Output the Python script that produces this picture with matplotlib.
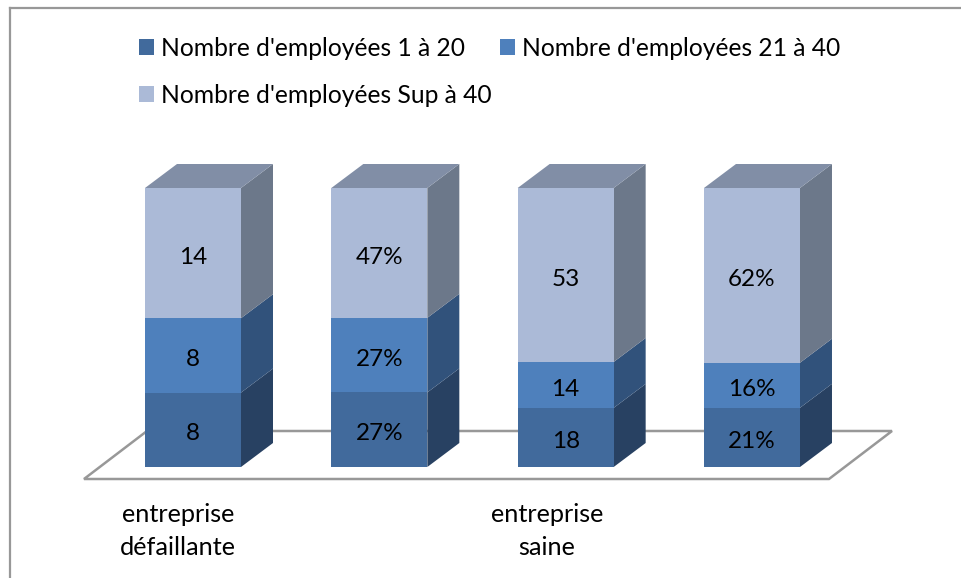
import matplotlib
matplotlib.use('Agg')
import matplotlib.pyplot as plt
from matplotlib.lines import Line2D
from matplotlib.patches import Patch, Polygon
import numpy as np

plt.rcParams['font.family'] = ['Lato', 'DejaVu Sans']

#values per column, the last row of each is what sits on top of the stack
low = [8, 27, 18, 21]
mid = [8, 27, 14, 16]
high = [14, 47, 53, 62]
is_percent = [False, True, False, True]
series_names = ["Nombre d'employées 1 à 20", "Nombre d'employées 21 à 40", "Nombre d'employées Sup à 40"]
group_labels = ["entreprise\ndéfaillante", "entreprise\nsaine"]

front_colors = ['#416A9C', '#4E80BC', '#ABBAD7']
side_colors = ['#284162', '#31527B', '#6C788A']
top_color = '#818EA6'
line_color = '#989898'

W, H = 961, 578
fig = plt.figure(figsize=(W / 100, H / 100), dpi=100)
ax = fig.add_axes([0, 0, 1, 1])

#axis scale: one unit per column in x, percent of the column in y
px_x = 186.33
px_y = 2.79
x0_px = 193
y0_px = 467
ax.set_xlim(-x0_px / px_x, (W - x0_px) / px_x)
ax.set_ylim(-(H - y0_px) / px_y, y0_px / px_y)
ax.axis('off')

bar_w = 96 / px_x
depth_x = 32 / px_x
depth_y = 24 / px_y

#chart floor, behind the bars
floor_l = -0.5 * bar_w - 61 / px_x
floor_r = 3 + 0.5 * bar_w + 29 / px_x
floor_b = -12 / px_y
shift_x = 63 / px_x
shift_y = 48 / px_y
ax.add_patch(Polygon([(floor_l, floor_b), (floor_r, floor_b),
                      (floor_r + shift_x, floor_b + shift_y), (floor_l + shift_x, floor_b + shift_y)],
                     closed=True, facecolor='white', edgecolor=line_color, linewidth=1.8, zorder=1))

data = np.array([low, mid, high], dtype=float)
shares = data / data.sum(axis=0) * 100
xs = np.arange(len(low))

bottom = np.zeros(len(low))
for s in range(3):
    ax.bar(xs, shares[s], bar_w, bottom=bottom, color=front_colors[s], zorder=3)
    for i, x in enumerate(xs):
        #side face of this segment
        r = x + bar_w / 2
        y1, y2 = bottom[i], bottom[i] + shares[s][i]
        ax.add_patch(Polygon([(r, y1), (r + depth_x, y1 + depth_y), (r + depth_x, y2 + depth_y), (r, y2)],
                             closed=True, facecolor=side_colors[s], edgecolor='none', zorder=2))
        label = f"{data[s][i]:.0f}%" if is_percent[i] else f"{data[s][i]:.0f}"
        ax.text(x, (y1 + y2) / 2 - 1.5, label, ha='center', va='center', fontsize=17.5, color='black', zorder=5)
    bottom += shares[s]

#top face of every column
for x, t in zip(xs, bottom):
    l, r = x - bar_w / 2, x + bar_w / 2
    ax.add_patch(Polygon([(l, t), (r, t), (r + depth_x, t + depth_y), (l + depth_x, t + depth_y)],
                         closed=True, facecolor=top_color, edgecolor='none', zorder=2))

#group captions under the floor
ax.text(-15 / px_x, -(531 - y0_px) / px_y, group_labels[0], ha='center', va='center', fontsize=18.2, linespacing=1.55)
ax.text(354 / px_x, -(531 - y0_px) / px_y, group_labels[1], ha='center', va='center', fontsize=18.2, linespacing=1.55)

#legend fills column by column, so the third name goes second
handles = [Patch(facecolor=front_colors[i], edgecolor='none') for i in (0, 2, 1)]
names = [series_names[i] for i in (0, 2, 1)]
fig.legend(handles, names, ncol=2, loc='upper left', bbox_to_anchor=(139 / W, 1 - 37 / H), bbox_transform=fig.transFigure,
           frameon=False, fontsize=17.7, handlelength=0.61, handleheight=0.61, handletextpad=0.28,
           columnspacing=0.36, labelspacing=0.97, borderpad=0, borderaxespad=0)

#outer frame, open on the right and at the bottom
fig.add_artist(Line2D([10 / W, 10 / W], [0, 1 - 7.5 / H], color=line_color, linewidth=1.6))
fig.add_artist(Line2D([10 / W, 1], [1 - 7.5 / H, 1 - 7.5 / H], color=line_color, linewidth=1.6))

fig.savefig('out.png', dpi=100, facecolor='white')
